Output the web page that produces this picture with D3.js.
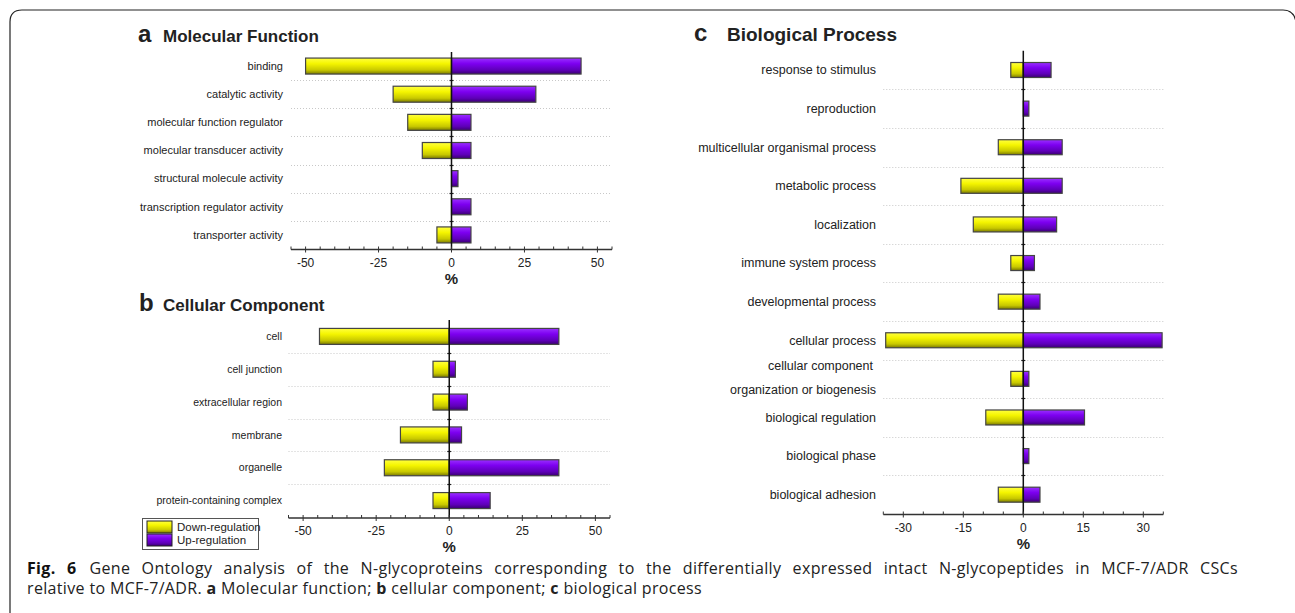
<!DOCTYPE html>
<html>
<head>
    <meta charset="utf-8">
    <title>GO analysis</title>
    <script src="https://d3js.org/d3.v7.min.js"></script>
    <style>
        body { margin: 0; background: #fff; }
        text { font-family: "Liberation Sans", Arial, sans-serif; fill: #222; }
        .sep { stroke: #c8c8c8; stroke-dasharray: 1,2; }
    </style>
</head>
<body>
<script>
    // ---- data ----
    var mfTerms = ["binding", "catalytic activity", "molecular function regulator", "molecular transducer activity",
        "structural molecule activity", "transcription regulator activity", "transporter activity"];
    var mfDown = [-50, -20, -15, -10, 0, 0, -5];
    var mfUp = [44.4, 28.9, 6.67, 6.67, 2.22, 6.67, 6.67];

    var ccTerms = ["cell", "cell junction", "extracellular region", "membrane", "organelle", "protein-containing complex"];
    var ccDown = [-44.4, -5.56, -5.56, -16.7, -22.2, -5.56];
    var ccUp = [37.5, 2.1, 6.2, 4.2, 37.5, 14];

    var bpTerms = ["response to stimulus", "reproduction", "multicellular organismal process", "metabolic process",
        "localization", "immune system process", "developmental process", "cellular process",
        "cellular component|organization or biogenesis", "biological regulation", "biological phase", "biological adhesion"];
    var bpDown = [-3.13, 0, -6.25, -15.6, -12.5, -3.13, -6.25, -34.4, -3.13, -9.38, 0, -6.25];
    var bpUp = [6.94, 1.39, 9.72, 9.72, 8.33, 2.78, 4.17, 34.7, 1.39, 15.3, 1.39, 4.17];

    var mfTicks = [-50, -25, 0, 25, 50];
    var bpTicks = [-30, -15, 0, 15, 30];
    var legendLabels = ["Down-regulation", "Up-regulation"];

    var W = 1295, H = 613;
    var svg = d3.select("body").append("svg").attr("width", W).attr("height", H);

    // gradients for the bars
    var defs = svg.append("defs");
    function grad(id, stops) {
        var g = defs.append("linearGradient").attr("id", id)
            .attr("x1", 0).attr("y1", 0).attr("x2", 0).attr("y2", 1);
        stops.forEach(function (s) {
            g.append("stop").attr("offset", s[0]).attr("stop-color", s[1]);
        });
    }
    grad("gDown", [[0, "#ffff40"], [0.35, "#f5f500"], [0.75, "#c8c800"], [1, "#7a7a00"]]);
    grad("gUp", [[0, "#9a30ff"], [0.35, "#7d00f0"], [0.75, "#5e00b8"], [1, "#3a0070"]]);

    // frame with rounded top corners
    svg.append("path")
        .attr("d", "M10,613 L10,22 Q10,10 22,10 L1283,10 Q1294,10 1296,22")
        .attr("fill", "none").attr("stroke", "#222").attr("stroke-width", 1.2);

    function drawPanel(cfg) {
        var g = svg.append("g");
        var x = d3.scaleLinear().domain(cfg.domain).range(cfg.xr);
        var y = d3.scaleBand().domain(d3.range(cfg.terms.length)).range(cfg.yr);
        var bw = y.bandwidth();

        // title
        g.append("text").attr("x", cfg.letterX).attr("y", cfg.titleY)
            .style("font-size", "24px").style("font-weight", "bold").text(cfg.letter);
        g.append("text").attr("x", cfg.titleX).attr("y", cfg.titleY)
            .style("font-size", cfg.titleSize + "px").style("font-weight", "bold").text(cfg.title);

        // dotted separators between rows
        d3.range(1, cfg.terms.length).forEach(function (i) {
            var yy = Math.round(y(i)) + 0.5;
            g.append("line").attr("class", "sep")
                .attr("x1", cfg.xr[0]).attr("x2", cfg.xr[1]).attr("y1", yy).attr("y2", yy);
            g.append("line").attr("x1", x(0) - 2).attr("x2", x(0) + 2).attr("y1", yy).attr("y2", yy)
                .attr("stroke", "#222").attr("stroke-width", 1.2);
        });

        // bars
        var rows = cfg.terms.map(function (t, i) { return { i: i, down: cfg.down[i], up: cfg.up[i] }; });
        var bh = cfg.barH;
        g.selectAll(".bd").data(rows.filter(function (d) { return d.down < 0; })).enter().append("rect")
            .attr("x", function (d) { return x(d.down); })
            .attr("y", function (d) { return y(d.i) + (bw - bh) / 2; })
            .attr("width", function (d) { return x(0) - x(d.down); })
            .attr("height", bh)
            .attr("fill", "url(#gDown)").attr("stroke", "#444").attr("stroke-width", 1.2);
        g.selectAll(".bu").data(rows.filter(function (d) { return d.up > 0; })).enter().append("rect")
            .attr("x", x(0))
            .attr("y", function (d) { return y(d.i) + (bw - bh) / 2; })
            .attr("width", function (d) { return x(d.up) - x(0); })
            .attr("height", bh)
            .attr("fill", "url(#gUp)").attr("stroke", "#444").attr("stroke-width", 1.2);

        // category labels
        var fs = cfg.labelSize + "px";
        rows.forEach(function (d) {
            var cy = y(d.i) + bw / 2;
            var parts = cfg.terms[d.i].split("|");
            if (parts.length == 1) {
                g.append("text").attr("x", cfg.labelX).attr("y", cy).attr("dy", "0.35em")
                    .attr("text-anchor", "end").style("font-size", fs).text(parts[0]);
            } else {
                g.append("text").attr("x", cfg.labelX - 3).attr("y", cy - 13).attr("dy", "0.35em")
                    .attr("text-anchor", "end").style("font-size", fs).text(parts[0]);
                g.append("text").attr("x", cfg.labelX).attr("y", cy + 11).attr("dy", "0.35em")
                    .attr("text-anchor", "end").style("font-size", fs).text(parts[1]);
            }
        });

        // zero line
        g.append("line").attr("x1", x(0)).attr("x2", x(0)).attr("y1", cfg.yr[0]).attr("y2", cfg.axisY)
            .attr("stroke", "#111").attr("stroke-width", 1.5);

        // x axis
        var axisY = cfg.axisY;
        g.append("line").attr("x1", cfg.xr[0]).attr("x2", cfg.xr[1]).attr("y1", axisY).attr("y2", axisY)
            .attr("stroke", "#333").attr("stroke-width", 1.5);
        var minor = d3.range(cfg.domain[0], cfg.domain[1] + 0.01, cfg.minorStep);
        minor.forEach(function (v) {
            g.append("line").attr("x1", x(v)).attr("x2", x(v)).attr("y1", axisY - 3).attr("y2", axisY)
                .attr("stroke", "#333").attr("stroke-width", 1);
        });
        cfg.ticks.forEach(function (v) {
            g.append("line").attr("x1", x(v)).attr("x2", x(v)).attr("y1", axisY).attr("y2", axisY + 3)
                .attr("stroke", "#333").attr("stroke-width", 1);
            g.append("text").attr("x", x(v)).attr("y", axisY + 17)
                .attr("text-anchor", "middle").style("font-size", "12px").text(v);
        });
        g.append("text").attr("x", x(0)).attr("y", axisY + 34)
            .attr("text-anchor", "middle").style("font-size", "15px").style("font-weight", "bold").text("%");
    }

    drawPanel({ terms: mfTerms, down: mfDown, up: mfUp, domain: [-55, 55], xr: [291, 612], yr: [52, 249],
        axisY: 249.5, barH: 16, ticks: mfTicks, minorStep: 5, labelX: 283, labelSize: 11,
        letter: "a", letterX: 138, titleX: 163, titleY: 42, titleSize: 17, title: "Molecular Function" });

    drawPanel({ terms: ccTerms, down: ccDown, up: ccUp, domain: [-55, 55], xr: [288.5, 610], yr: [320, 517],
        axisY: 518, barH: 16, ticks: mfTicks, minorStep: 5, labelX: 282, labelSize: 10.5,
        letter: "b", letterX: 139, titleX: 163, titleY: 311, titleSize: 17, title: "Cellular Component" });

    drawPanel({ terms: bpTerms, down: bpDown, up: bpUp, domain: [-35, 35], xr: [883.3, 1163.3], yr: [50.7, 514],
        axisY: 514.5, barH: 15, ticks: bpTicks, minorStep: 5, labelX: 876, labelSize: 12.5,
        letter: "c", letterX: 694, titleX: 727, titleY: 41, titleSize: 19, title: "Biological Process" });

    // legend
    var lg = svg.append("g");
    lg.append("rect").attr("x", 142.5).attr("y", 518.5).attr("width", 116).attr("height", 31)
        .attr("fill", "#fff").attr("stroke", "#555").attr("stroke-width", 1);
    legendLabels.forEach(function (t, i) {
        lg.append("rect").attr("x", 147).attr("y", 521 + i * 13).attr("width", 25).attr("height", 12)
            .attr("fill", i == 0 ? "url(#gDown)" : "url(#gUp)").attr("stroke", "#222").attr("stroke-width", 1);
        lg.append("text").attr("x", 177).attr("y", 527 + i * 13).attr("dy", "0.35em")
            .style("font-size", "11.5px").text(t);
    });

    // caption: last line left-aligned, first line justified to the right edge
    var capFont = "'Open Sans', sans-serif";
    var capSize = "16px";
    var line2 = svg.append("text").attr("x", 27).attr("y", 594).style("font-family", capFont)
        .style("font-size", capSize).style("fill", "#222");
    line2.append("tspan").text("relative to MCF-7/ADR. ");
    line2.append("tspan").style("font-weight", "bold").text("a");
    line2.append("tspan").text(" Molecular function; ");
    line2.append("tspan").style("font-weight", "bold").text("b");
    line2.append("tspan").text(" cellular component; ");
    line2.append("tspan").style("font-weight", "bold").text("c");
    line2.append("tspan").text(" biological process");
    var w2 = line2.node().getComputedTextLength();
    var ls = (675 - w2) / line2.text().length;
    line2.style("letter-spacing", ls + "px");

    var body1 = "Gene Ontology analysis of the N-glycoproteins corresponding to the differentially expressed intact N-glycopeptides in MCF-7/ADR CSCs";
    var gap = 13;
    var line1 = svg.append("text").attr("x", 27).attr("y", 574).style("font-family", capFont)
        .style("font-size", capSize).style("letter-spacing", ls + "px");
    line1.append("tspan").style("font-weight", "bold").style("fill", "#111").text("Fig. 6");
    line1.append("tspan").attr("dx", gap).style("fill", "#222").text(body1);
    var w1 = line1.node().getComputedTextLength() + gap;
    var spaces = body1.split(" ").length;
    var wsp = Math.max(0, (1238 - 27 - w1) / spaces);
    line1.style("word-spacing", wsp + "px");
</script>
</body>
</html>
